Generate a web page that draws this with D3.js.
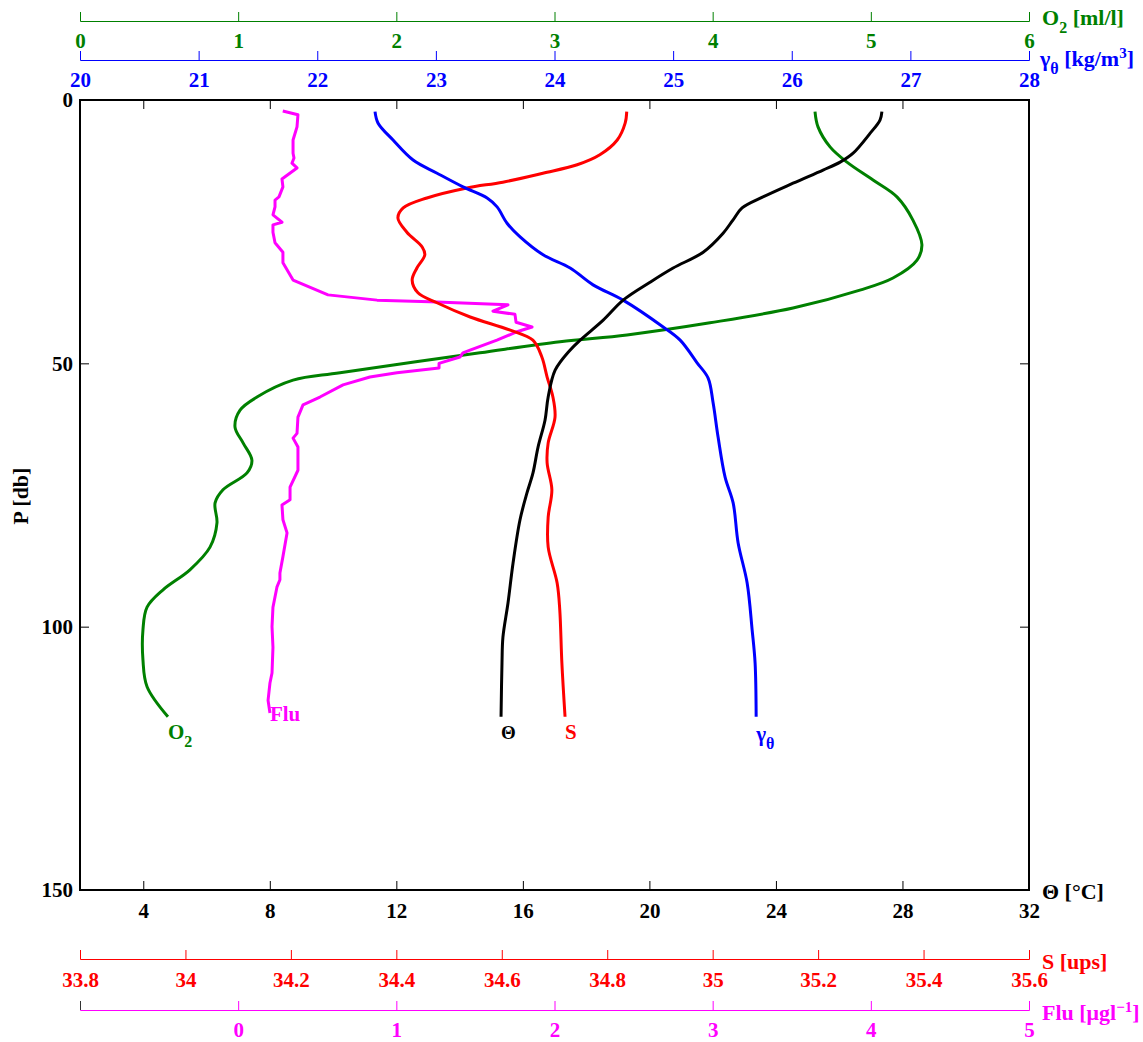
<!DOCTYPE html>
<html><head><meta charset="utf-8">
<script src="https://cdn.jsdelivr.net/npm/d3@7"></script>
<style>
body{margin:0;background:#fff}
text{font-family:"Liberation Serif","Times New Roman",serif;font-weight:bold}
</style></head><body>
<svg id="c" width="1143" height="1042"></svg>
<script>
// ---- data (pressure in db, values in each variable's units) ----
const thetaP = [2.2,3.8,6.3,10.1,11.8,13.3,15.8,18.4,20.5,22.8,25.3,28.9,31.9,34.6,38.0,41.8,45.6,47.5,51.3,56.4,60.8,65.9,70.8,74.6,79.7,87.9,95.5,102.0,106.9,117.1];
const thetaV = [27.35,27.29,26.98,26.44,26.03,25.49,24.54,23.59,22.93,22.64,22.33,21.70,20.75,20.02,19.17,18.54,17.81,17.49,17.02,16.80,16.70,16.48,16.32,16.13,15.91,15.69,15.53,15.37,15.34,15.31];

const salP = [2.2,4.4,7.6,10.4,12.3,13.9,15.6,16.7,18.6,20.5,22.4,25.1,27.9,29.4,31.9,34.2,36.6,38.5,41.2,43.7,45.6,48.8,52.6,56.4,60.2,65.1,68.9,74.0,79.2,84.9,91.7,96.8,106.9,117.1];
const salV = [34.837,34.834,34.819,34.786,34.743,34.678,34.602,34.534,34.458,34.413,34.403,34.420,34.449,34.454,34.439,34.430,34.441,34.477,34.540,34.616,34.659,34.676,34.686,34.697,34.701,34.688,34.686,34.695,34.688,34.688,34.705,34.710,34.714,34.720];

const gamP = [2.2,4.4,7.6,11.4,13.9,16.5,18.6,20.3,23.4,26.0,29.4,31.9,35.1,38.0,43.1,45.6,49.9,52.8,57.5,64.0,71.6,76.5,84.1,91.7,100.6,106.9,117.1];
const gamV = [22.487,22.513,22.639,22.808,23.010,23.229,23.432,23.516,23.600,23.710,23.904,24.132,24.325,24.578,24.916,25.059,25.202,25.295,25.337,25.379,25.438,25.506,25.548,25.624,25.666,25.691,25.700];

const o2P = [2.2,5.1,8.9,11.8,15.2,18.4,22.8,27.5,30.4,33.8,36.1,39.5,42.3,44.6,45.9,48.0,51.8,53.2,56.4,58.9,62.1,65.1,68.4,70.8,74.0,76.5,80.3,84.9,89.2,93.0,96.3,100.6,106.3,111.4,117.1];
const o2V = [4.647,4.666,4.742,4.849,5.014,5.165,5.266,5.323,5.292,5.140,4.931,4.508,3.983,3.458,3.035,2.529,1.644,1.347,1.119,1.012,0.980,1.031,1.087,1.056,0.904,0.854,0.866,0.822,0.695,0.525,0.424,0.398,0.398,0.424,0.556];

const fluP = [2.1,2.8,5.1,7.6,10.1,11.0,12.0,12.9,15.0,16.5,18.4,19.0,20.3,21.8,23.2,23.7,25.1,27.1,28.9,30.9,34.2,37.0,38.0,38.3,38.9,40.1,40.7,42.2,43.1,44.0,45.6,47.5,48.0,48.8,50.0,50.9,51.8,52.6,54.1,56.4,57.9,60.2,63.3,64.2,65.9,70.3,73.5,75.9,76.9,79.7,82.2,86.7,89.8,91.1,92.5,96.3,100.0,103.9,108.8,110.7,114.0,116.4];
const fluV = [0.282,0.378,0.372,0.347,0.347,0.353,0.340,0.372,0.277,0.283,0.258,0.233,0.233,0.220,0.277,0.220,0.220,0.233,0.283,0.283,0.347,0.568,0.878,1.213,1.706,1.611,1.750,1.757,1.858,1.763,1.636,1.466,1.421,1.402,1.270,1.270,1.004,0.833,0.663,0.517,0.410,0.378,0.372,0.347,0.378,0.378,0.328,0.328,0.277,0.283,0.309,0.283,0.264,0.264,0.245,0.220,0.214,0.220,0.214,0.201,0.189,0.201];

// tick labels
const thetaTicks = [4,8,12,16,20,24,28,32];
const pTicks = [0,50,100,150];
const o2Ticks = [0,1,2,3,4,5,6];
const gamTicks = [20,21,22,23,24,25,26,27,28];
const salTicks = [33.8,34,34.2,34.4,34.6,34.8,35,35.2,35.4,35.6];
const fluTicks = [0,1,2,3,4,5];

// ---- layout ----
const L = 80, R = 1029, T = 100, B = 890;
const GREEN = "#008000", BLUE = "#0000ff", RED = "#ff0000", MAG = "#ff00ff";
const FS = 21;
const svg = d3.select("#c");

const y = d3.scaleLinear([0,150],[T,B]);
const xT = d3.scaleLinear([2,32],[L,R]);
const xS = d3.scaleLinear([33.8,35.6],[L,R]);
const xG = d3.scaleLinear([20,28],[L,R]);
const xO = d3.scaleLinear([0,6],[L,R]);
const xF = d3.scaleLinear([-1,5],[L,R]);

function style(g, color, fs) {
  g.attr("font-size", fs).attr("font-family", null);
  g.select(".domain").attr("stroke", color);
  g.selectAll(".tick line").attr("stroke", color);
  g.selectAll(".tick text").attr("fill", color);
}

function secAxis(scale, yy, ticks, color, pad) {
  const g = svg.append("g").attr("transform", `translate(0,${yy})`)
    .call(d3.axisBottom(scale).tickValues(ticks).tickSize(-9).tickSizeOuter(-9)
      .tickPadding(pad).tickFormat(d3.format("")));
  style(g, color, FS);
  return g;
}
secAxis(xO, 21, o2Ticks, GREEN, 12);
secAxis(xG, 60, gamTicks, BLUE, 12);
secAxis(xS, 959, salTicks, RED, 13);
const gF = secAxis(xF, 1010, fluTicks, MAG, 12);
gF.append("line").attr("x1", xF(-1)+0.5).attr("x2", xF(-1)+0.5).attr("y1", -9).attr("y2", 0).attr("stroke", "#333");

// frame axes
const gb = svg.append("g").attr("transform", `translate(0,${B})`)
  .call(d3.axisBottom(xT).tickValues(thetaTicks).tickSize(-9).tickSizeOuter(0).tickPadding(13));
style(gb, "#000", FS);
const gt = svg.append("g").attr("transform", `translate(0,${T})`)
  .call(d3.axisTop(xT).tickValues(thetaTicks.slice(0,-1)).tickSize(-9).tickSizeOuter(0).tickFormat(""));
style(gt, "#000", FS);
const gl = svg.append("g").attr("transform", `translate(${L},0)`)
  .call(d3.axisLeft(y).tickValues(pTicks).tickSize(-9).tickSizeOuter(0).tickPadding(7));
style(gl, "#000", FS);
const gr = svg.append("g").attr("transform", `translate(${R},0)`)
  .call(d3.axisRight(y).tickValues([50,100]).tickSize(-9).tickSizeOuter(0).tickFormat(""));
style(gr, "#000", FS);
svg.append("rect").attr("x", L).attr("y", T).attr("width", R-L).attr("height", B-T)
  .attr("fill", "none").attr("stroke", "#000").attr("stroke-width", 2);

// ---- profiles ----
const series = [
  {P: o2P, V: o2V, x: xO, c: GREEN, curve: d3.curveCatmullRom},
  {P: fluP, V: fluV, x: xF, c: MAG, curve: d3.curveLinear},
  {P: salP, V: salV, x: xS, c: RED, curve: d3.curveCatmullRom},
  {P: gamP, V: gamV, x: xG, c: BLUE, curve: d3.curveCatmullRom},
  {P: thetaP, V: thetaV, x: xT, c: "#000", curve: d3.curveCatmullRom}
];
series.forEach(s => {
  const pts = s.P.map((p,i) => [s.x(s.V[i]), y(p)]);
  svg.append("path").attr("d", d3.line().curve(s.curve)(pts))
    .attr("fill", "none").attr("stroke", s.c).attr("stroke-width", 3)
    .attr("stroke-linejoin", "round");
});

// ---- curve labels ----
function lab(xx, yy, color, parts, fs) {
  const t = svg.append("text").attr("x", xx).attr("y", yy).attr("fill", color).attr("font-size", fs || 22);
  parts.forEach(p => {
    const ts = t.append("tspan").text(p.t);
    if (p.dy) ts.attr("dy", p.dy);
    if (p.fs) ts.attr("font-size", p.fs);
  });
  return t;
}
const lastO = o2V[o2V.length-1], lastF = fluV[fluV.length-1];
lab(xO(lastO), y(117.1)+22, GREEN, [{t:"O"},{t:"2", dy:8, fs:16}], 21);
lab(xF(lastF), y(116.4)+8, MAG, [{t:"Flu"}], 21);
lab(xT(thetaV[thetaV.length-1]), y(117.1)+22, "#000", [{t:"Θ", fs:19}], 21);
lab(xS(salV[salV.length-1]), y(117.1)+22, RED, [{t:"S"}], 21);
lab(xG(gamV[gamV.length-1]), y(117.1)+24, BLUE, [{t:"γ"},{t:"θ", dy:8, fs:16}], 21);

// ---- axis titles ----
lab(1042, 25, GREEN, [{t:"O"},{t:"2", dy:8, fs:16},{t:" [ml/l]", dy:-8}]);
lab(1040, 66, BLUE, [{t:"γ"},{t:"θ", dy:8, fs:16},{t:" [kg/m", dy:-8},{t:"3", dy:-8, fs:15},{t:"]", dy:8}]);
lab(1042, 899, "#000", [{t:"Θ [°C]"}]);
lab(1042, 969, RED, [{t:"S [ups]"}]);
lab(1042, 1020, MAG, [{t:"Flu [μgl"},{t:"−1", dy:-8, fs:15},{t:"]", dy:8}]);

svg.append("text").attr("transform", "translate(28,496) rotate(-90)")
  .attr("text-anchor", "middle").attr("font-size", 22).attr("fill", "#000").text("P [db]");
</script>
</body></html>
